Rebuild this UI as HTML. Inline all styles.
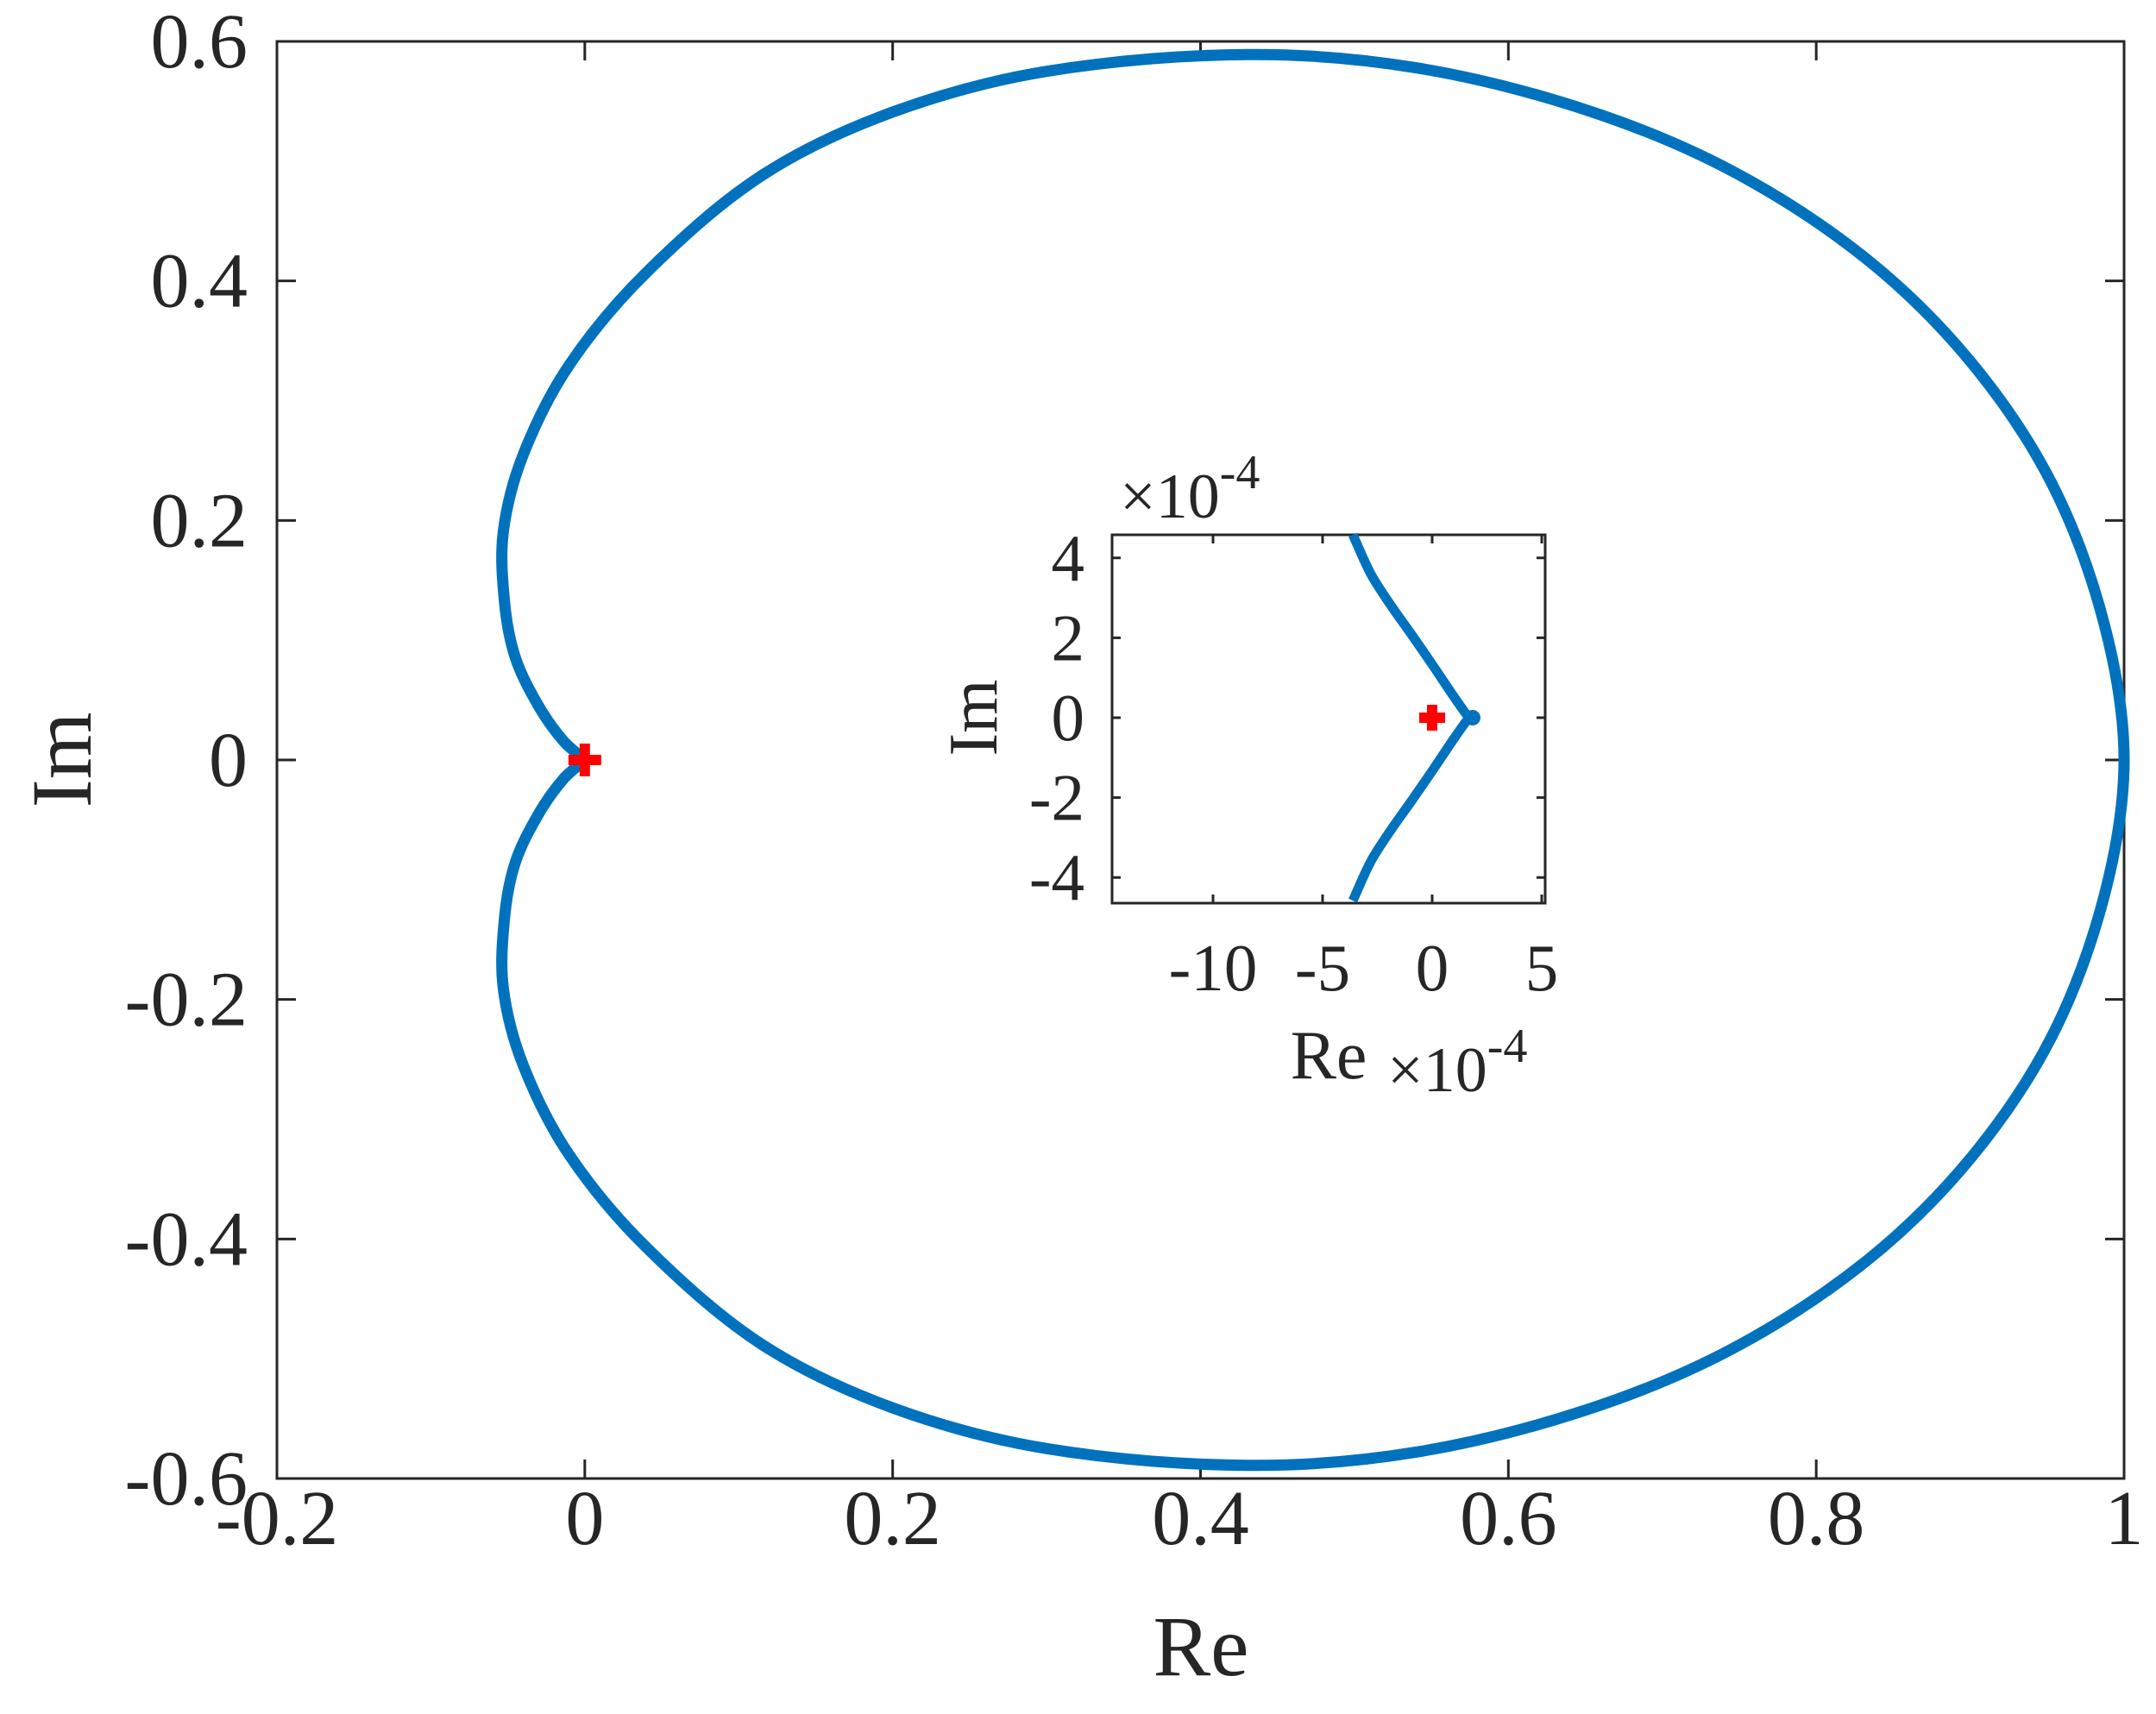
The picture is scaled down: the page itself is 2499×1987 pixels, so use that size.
<!DOCTYPE html>
<html><head><meta charset="utf-8"><style>
html,body{margin:0;padding:0;background:#fff;}
svg{display:block;font-family:"Liberation Serif",serif;}
</style></head><body>
<svg id="chart" width="2499" height="1987" viewBox="0 0 2499 1987"></svg>
<script>
// main curve, upper half (Re, Im) — lower half mirrored
const mainRe = [1.0,0.987,0.953,0.900,0.832,0.745,0.650,0.540,0.430,0.300,0.200,0.115,0.040,-0.010,-0.040,-0.053,-0.052,-0.045,-0.030,-0.014,0.0];
const mainIm = [0,0.114,0.231,0.333,0.419,0.492,0.543,0.578,0.589,0.575,0.541,0.488,0.407,0.330,0.255,0.190,0.130,0.085,0.045,0.016,0];
const mainXTicks = [-0.2,0,0.2,0.4,0.6,0.8,1];
const mainXLabels = ["-0.2","0","0.2","0.4","0.6","0.8","1"];
const mainYTicks = [-0.6,-0.4,-0.2,0,0.2,0.4,0.6];
const mainYLabels = ["-0.6","-0.4","-0.2","0","0.2","0.4","0.6"];
// inset curve (units 1e-4), upper half
const insetRe = [-3.62,-2.8,-1.93,-0.9,0.08,0.9,1.5,1.7];
const insetIm = [4.58,3.6,2.85,2.05,1.27,0.6,0.13,0];
const insetDot = [1.85,0];
const insetXTicks = [-10,-5,0,5];
const insetXLabels = ["-10","-5","0","5"];
const insetYTicks = [-4,-2,0,2,4];
const insetYLabels = ["-4","-2","0","2","4"];

const NS="http://www.w3.org/2000/svg";
const svg=document.getElementById('chart');
function mk(tag,attrs,parent){const e=document.createElementNS(NS,tag);for(const k in attrs)e.setAttribute(k,attrs[k]);(parent||svg).appendChild(e);return e;}
function dist(a,b){return Math.hypot(a[0]-b[0],a[1]-b[1])||1e-6;}
function smooth(pts){
 const n=pts.length, m=[];
 for(let i=0;i<n;i++){const a=pts[Math.max(0,i-1)],b=pts[Math.min(n-1,i+1)];const d=dist(a,pts[i])*(i>0)+dist(pts[i],b)*(i<n-1);m.push([(b[0]-a[0])/d,(b[1]-a[1])/d]);}
 let d='M'+pts[0][0]+','+pts[0][1];
 for(let i=0;i<n-1;i++){const p1=pts[i],p2=pts[i+1],L=dist(p1,p2)/3;
  d+=' C'+(p1[0]+m[i][0]*L)+','+(p1[1]+m[i][1]*L)+' '+(p2[0]-m[i+1][0]*L)+','+(p2[1]-m[i+1][1]*L)+' '+p2[0]+','+p2[1];}
 return d;}
function fullLoop(re,im){const up=re.map((r,i)=>[r,im[i]]);const lo=re.map((r,i)=>[r,-im[i]]).reverse();return lo.concat(up.slice(1));}
function halves(re,im){const up=re.map((r,i)=>[r,im[i]]);const lo=re.map((r,i)=>[r,-im[i]]);return [up,lo];}

// main axes
const L=321,R=2462,T=48,B=1714;
const mx=v=>L+(v+0.2)/1.2*(R-L), my=v=>T+(0.6-v)/1.2*(B-T);
mk('rect',{x:L,y:T,width:R-L,height:B-T,fill:'none',stroke:'#262626','stroke-width':3,});
mainXTicks.forEach((v,i)=>{const x=mx(v);
 let t=mk('path',{d:`M${x},${B}v-22M${x},${T}v22`,stroke:'#262626','stroke-width':3});
 
 
 let s=mk('text',{x:x,y:1790,'font-size':90,'text-anchor':'middle',fill:'#262626'});s.textContent=mainXLabels[i];
 
 });
mainYTicks.forEach((v,i)=>{const y=my(v);
 let t=mk('path',{d:`M${L},${y}h22M${R},${y}h-22`,stroke:'#262626','stroke-width':3});
 
 
 let s=mk('text',{x:287,y:y+30,'font-size':90,'text-anchor':'end',fill:'#262626'});s.textContent=mainYLabels[i];
 
 });
let xt=mk('text',{x:1392,y:1942,'font-size':100,'text-anchor':'middle',fill:'#262626'});xt.textContent='Re';


let yt=mk('text',{x:0,y:0,'font-size':100,'text-anchor':'middle',fill:'#262626',transform:'translate(105,881) rotate(-90)'});yt.textContent='Im';



// upper and lower branches joined smoothly at Re=1; cusp at origin
const loop=fullLoop(mainRe,mainIm);
const mp=mk('path',{d:smooth(loop.map(q=>[mx(q[0]),my(q[1])])),fill:'none',stroke:'#0072BD','stroke-width':13,'stroke-linecap':'round','stroke-linejoin':'round'});


function plus(cx,cy,s,w,name){const g=mk('path',{d:`M${cx-s},${cy}h${2*s}M${cx},${cy-s}v${2*s}`,stroke:'#FF0000','stroke-width':w});}
plus(mx(0),my(0),19,12,'critical-point-marker');

// inset
const IL=1289,IR=1791,IT=620,IB=1047;
const ix=v=>1660+v*25.4, iy=v=>832-v*46.3;
mk('rect',{x:IL,y:IT,width:IR-IL,height:IB-IT,fill:'#fff',stroke:'#262626','stroke-width':3,});
insetXTicks.forEach((v,i)=>{const x=ix(v);
 let t=mk('path',{d:`M${x},${IB}v-10M${x},${IT}v10`,stroke:'#262626','stroke-width':3});
 
 
 let s=mk('text',{x:x,y:1148,'font-size':77,'text-anchor':'middle',fill:'#262626'});s.textContent=insetXLabels[i];
 
 });
insetYTicks.forEach((v,i)=>{const y=iy(v);
 let t=mk('path',{d:`M${IL},${y}h10M${IR},${y}h-10`,stroke:'#262626','stroke-width':3});
 
 
 let s=mk('text',{x:1257,y:y+26,'font-size':77,'text-anchor':'end',fill:'#262626'});s.textContent=insetYLabels[i];
 
 });
let ixt=mk('text',{x:1540,y:1250,'font-size':80,'text-anchor':'middle',fill:'#262626'});ixt.textContent='Re';


let iyt=mk('text',{x:0,y:0,'font-size':80,'text-anchor':'middle',fill:'#262626',transform:'translate(1155,832) rotate(-90)'});iyt.textContent='Im';


let ex1=mk('text',{x:1608,y:1265,'font-size':74,fill:'#262626'});ex1.innerHTML='×10<tspan dy="-34" font-size="56">-4</tspan>';


let ex2=mk('text',{x:1298,y:600,'font-size':74,fill:'#262626'});ex2.innerHTML='×10<tspan dy="-34" font-size="56">-4</tspan>';


halves(insetRe,insetIm).forEach(seg=>{const p=mk('path',{d:smooth(seg.map(q=>[ix(q[0]),iy(q[1])])),fill:'none',stroke:'#0072BD','stroke-width':11,'stroke-linecap':'butt','stroke-linejoin':'round'});
 
 });
let dot=mk('circle',{cx:ix(insetDot[0]),cy:iy(insetDot[1]),r:9,fill:'#0072BD'});


plus(ix(0),iy(0),15,12,'inset-critical-point-marker');
</script>
</body></html>
